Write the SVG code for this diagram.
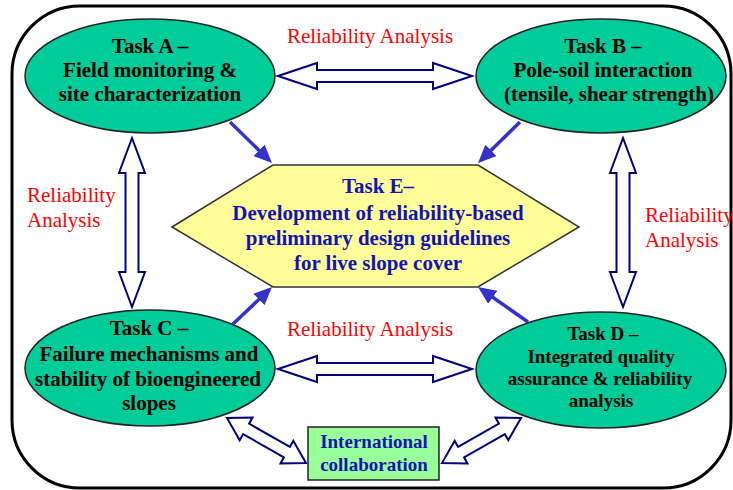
<svg xmlns="http://www.w3.org/2000/svg" width="733" height="490" viewBox="0 0 733 490">
<style>
.bg{fill:#ffffff}
.frame{fill:none;stroke:#000;stroke-width:3}
.ell{fill:#00CC99;stroke:#222;stroke-width:1.5}
.hex{fill:#FFFF99;stroke:#333;stroke-width:1.5}
.box{fill:#99FF99;stroke:#222;stroke-width:1.5}
.t{font-family:"Liberation Serif","Times New Roman",serif;font-weight:bold;font-size:21px;fill:#000;text-anchor:middle}
.td{font-size:19px}
.tb{fill:#1414B4}
.ti{font-size:19px}
.red{font-family:"Liberation Serif","Times New Roman",serif;font-size:21px;fill:#FF0000}
.hollow{fill:#fff;stroke:#000080;stroke-width:2;stroke-linejoin:miter}
.solid{stroke:#3333CC;stroke-width:3.5;fill:none;marker-end:url(#ah)}
</style>
<defs>
<marker id="ah" markerUnits="userSpaceOnUse" markerWidth="18" markerHeight="16" refX="14" refY="8" orient="auto">
<path d="M0,0 L18,8 L0,16 z" fill="#3333CC"/>
</marker>
<polygon id="diag" points="227,418 239.7,440.2 243.1,434.1 283.9,457.3 280.5,463.4 306,463 293.3,440.8 289.9,446.9 249.1,423.7 252.5,417.6"/>
</defs>
<rect class="bg" x="0" y="0" width="733" height="490"/>
<rect class="frame" x="12" y="6" width="719" height="482" rx="68" ry="68"/>

<g id="taskA">
<ellipse class="ell" cx="150" cy="76" rx="125" ry="57"/>
<text class="t" x="150" y="53">Task A –</text>
<text class="t" x="150" y="77">Field monitoring &amp;</text>
<text class="t" x="150" y="101">site characterization</text>
</g>
<g id="taskB">
<ellipse class="ell" cx="601" cy="76" rx="125" ry="57"/>
<text class="t" x="603" y="53">Task B –</text>
<text class="t" x="603" y="77">Pole-soil interaction</text>
<text class="t" x="609" y="101">(tensile, shear strength)</text>
</g>
<g id="taskC">
<ellipse class="ell" cx="150" cy="368" rx="125" ry="58"/>
<text class="t" x="149" y="335">Task C –</text>
<text class="t" x="149" y="361">Failure mechanisms and</text>
<text class="t" x="148" y="386">stability of bioengineered</text>
<text class="t" x="149" y="410">slopes</text>
</g>
<g id="taskD">
<ellipse class="ell" cx="601" cy="370" rx="125" ry="58"/>
<text class="t td" x="603" y="340">Task D –</text>
<text class="t td" x="601" y="363">Integrated quality</text>
<text class="t td" x="600" y="385">assurance &amp; reliability</text>
<text class="t td" x="601" y="407">analysis</text>
</g>
<g id="taskE">
<polygon class="hex" points="172,227 273,165 478,165 579,227 478,287 273,287"/>
<text class="t tb" x="378" y="193">Task E–</text>
<text class="t tb" x="378" y="220">Development of reliability-based</text>
<text class="t tb" x="378" y="245">preliminary design guidelines</text>
<text class="t tb" x="378" y="270">for live slope cover</text>
</g>
<g id="collab">
<rect class="box" x="308" y="427" width="131" height="53"/>
<text class="t tb ti" x="374" y="448">International</text>
<text class="t tb ti" x="374" y="471">collaboration</text>
</g>

<g id="labels">
<text class="red" x="370" y="43" text-anchor="middle">Reliability Analysis</text>
<text class="red" x="370" y="336" text-anchor="middle">Reliability Analysis</text>
<text class="red" x="27" y="202">Reliability</text>
<text class="red" x="27" y="227">Analysis</text>
<text class="red" x="645" y="222">Reliability</text>
<text class="red" x="645" y="247">Analysis</text>
</g>

<g id="connectors">
<polygon class="hollow" points="278,76 317,63 317,70 433,70 433,63 472,76 433,89 433,82 317,82 317,89"/>
<polygon class="hollow" points="278,369 317,356 317,363 433,363 433,356 472,369 433,382 433,375 317,375 317,382"/>
<polygon class="hollow" points="132,138 145,173 138.5,173 138.5,272 145,272 132,307 119,272 125.5,272 125.5,173 119,173"/>
<polygon class="hollow" points="623,138 636,173 629.5,173 629.5,272 636,272 623,307 610,272 616.5,272 616.5,173 610,173"/>
<use href="#diag" class="hollow"/>
<use href="#diag" class="hollow" transform="translate(748,0) scale(-1,1)"/>
<line class="solid" x1="230" y1="122" x2="269.1" y2="160.2"/>
<line class="solid" x1="520" y1="122" x2="480.9" y2="160.2"/>
<line class="solid" x1="232" y1="325" x2="269.1" y2="289.8"/>
<line class="solid" x1="528" y1="322" x2="481.3" y2="289.3"/>
</g>
</svg>
